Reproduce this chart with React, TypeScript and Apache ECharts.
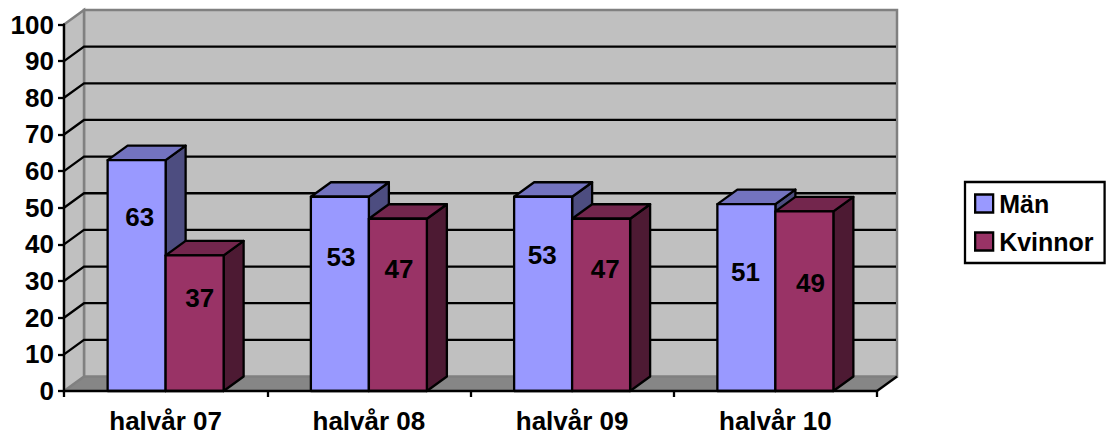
import React, { useEffect, useRef } from "react";
import * as echarts from "echarts";

const categories = ["halvår 07", "halvår 08", "halvår 09", "halvår 10"];
const man = [63, 53, 53, 51];
const kvinnor = [37, 47, 47, 49];
const yTicks = [0, 10, 20, 30, 40, 50, 60, 70, 80, 90, 100];
// where each value label sits, as (shift from face centre in px, height on the value axis)
const manLabelX = [3, 1, -1, -1];
const manLabelY = [47.5, 36.6, 37, 32.5];
const kvinnorLabelX = [5, 1, 4, 6];
const kvinnorLabelY = [25.4, 33.3, 33.3, 29.5];

const DX = 20;
const DY = 14.5;
const FONT = '"Liberation Sans", Arial, sans-serif';
const FS = 26;
const LW = 2.3;
const BAR_FRAC = 58 / 203.25;

const makeWalls = (params: any, api: any) => {
  const cs = params.coordSys;
  const x0 = cs.x;
  const x1 = cs.x + cs.width;
  const yBot = cs.y + cs.height;
  const yTop = cs.y;
  const children: any[] = [];
  const grey = "#808080";
  children.push({
    type: "polygon",
    shape: { points: [[x0, yBot], [x0 + DX, yBot - DY], [x1 + DX, yBot - DY], [x1, yBot]] },
    style: { fill: "#868686", stroke: null },
  });
  children.push({
    type: "polygon",
    shape: { points: [[x0 + DX, yTop - DY], [x1 + DX, yTop - DY], [x1 + DX, yBot - DY], [x0 + DX, yBot - DY]] },
    style: { fill: "#c0c0c0", stroke: grey, lineWidth: 2.5 },
  });
  children.push({
    type: "polygon",
    shape: { points: [[x0, yTop], [x0 + DX, yTop - DY], [x0 + DX, yBot - DY], [x0, yBot]] },
    style: { fill: "#c0c0c0", stroke: grey, lineWidth: 2.5 },
  });
  yTicks.forEach((t) => {
    const y = api.coord([0, t])[1];
    if (t > 0 && t < 100) {
      children.push({
        type: "polyline",
        shape: { points: [[x0, y], [x0 + DX, y - DY], [x1 + DX - 1, y - DY]] },
        style: { fill: null, stroke: "#000", lineWidth: LW },
      });
    }
  });
  children.push({
    type: "line",
    shape: { x1: x1, y1: yBot, x2: x1 + DX, y2: yBot - DY },
    style: { stroke: "#000", lineWidth: LW },
  });
  return { type: "group", children };
};

const makeBar = (offset: number, front: string, top: string, side: string, labelX: number[], labelY: number[]) =>
  (_params: any, api: any) => {
    const i = api.value(0);
    const v = api.value(1);
    const band = api.size([1, 0])[0];
    const w = band * BAR_FRAC;
    const c = api.coord([i, v]);
    const base = api.coord([i, 0]);
    const l = c[0] + offset * w;
    const r = l + w;
    const t = c[1];
    const b = base[1];
    const stroke = { stroke: "#000", lineWidth: LW, lineJoin: "round" };
    return {
      type: "group",
      children: [
        { type: "polygon", shape: { points: [[r, t], [r + DX, t - DY], [r + DX, b - DY], [r, b]] }, style: { fill: side, ...stroke } },
        { type: "polygon", shape: { points: [[l, t], [l + DX, t - DY], [r + DX, t - DY], [r, t]] }, style: { fill: top, ...stroke } },
        { type: "rect", shape: { x: l, y: t, width: w, height: b - t }, style: { fill: front, ...stroke } },
        {
          type: "text",
          x: (l + r) / 2 + labelX[i],
          y: api.coord([i, labelY[i]])[1],
          style: {
            text: String(v),
            fill: "#000",
            font: `bold ${FS}px ${FONT}`,
            align: "center",
            verticalAlign: "middle",
          },
        },
      ],
    };
  };

export default function App() {
  const ref = useRef<HTMLDivElement>(null);
  useEffect(() => {
    const chart = echarts.init(ref.current!, undefined, { renderer: "svg" });
    chart.setOption({
      animation: false,
      backgroundColor: "#fff",
      grid: { left: 64, top: 24.5, width: 813, height: 366.5, containLabel: false },
      xAxis: {
        type: "category",
        data: categories,
        z: 6,
        axisLine: { lineStyle: { color: "#000", width: LW } },
        axisTick: { show: true, length: 6, lineStyle: { color: "#000", width: LW } },
        axisLabel: { color: "#000", fontFamily: "Liberation Sans", fontWeight: "bold", fontSize: FS, margin: 17 },
      },
      yAxis: {
        type: "value",
        min: 0,
        max: 100,
        interval: 10,
        z: 6,
        axisLine: { show: true, lineStyle: { color: "#000", width: LW } },
        axisTick: { show: true, length: 6, lineStyle: { color: "#000", width: LW } },
        axisLabel: { color: "#000", fontFamily: "Liberation Sans", fontWeight: "bold", fontSize: FS, margin: 10 },
        splitLine: { show: false },
      },
      legend: {
        orient: "vertical",
        left: 965,
        top: 182,
        padding: [9, 11, 9, 9],
        itemGap: 13,
        itemWidth: 18,
        itemHeight: 18,
        borderColor: "#000",
        borderWidth: LW,
        backgroundColor: "#fff",
        icon: "rect",
        itemStyle: { borderColor: "#000", borderWidth: LW },
        textStyle: { color: "#000", fontFamily: "Liberation Sans", fontWeight: "bold", fontSize: 25, padding: [0, 0, 0, 1] },
        data: ["Män", "Kvinnor"],
      },
      series: [
        { type: "custom", name: "walls", silent: true, z: 1, clip: false, data: [[0, 0]], encode: { x: 0, y: 1 }, renderItem: makeWalls },
        {
          type: "custom", name: "Män", z: 2, clip: false,
          itemStyle: { color: "#9999ff" },
          data: man.map((v, i) => [i, v]), encode: { x: 0, y: 1 },
          renderItem: makeBar(-1, "#9999ff", "#7373bf", "#4d4d80", manLabelX, manLabelY),
        },
        {
          type: "custom", name: "Kvinnor", z: 3, clip: false,
          itemStyle: { color: "#993366" },
          data: kvinnor.map((v, i) => [i, v]), encode: { x: 0, y: 1 },
          renderItem: makeBar(0, "#993366", "#73264d", "#4d1a33", kvinnorLabelX, kvinnorLabelY),
        },
      ],
    });
    return () => chart.dispose();
  }, []);
  return <div ref={ref} style={{ position: "absolute", left: 0, top: 0, width: 1108, height: 437 }} />;
}
